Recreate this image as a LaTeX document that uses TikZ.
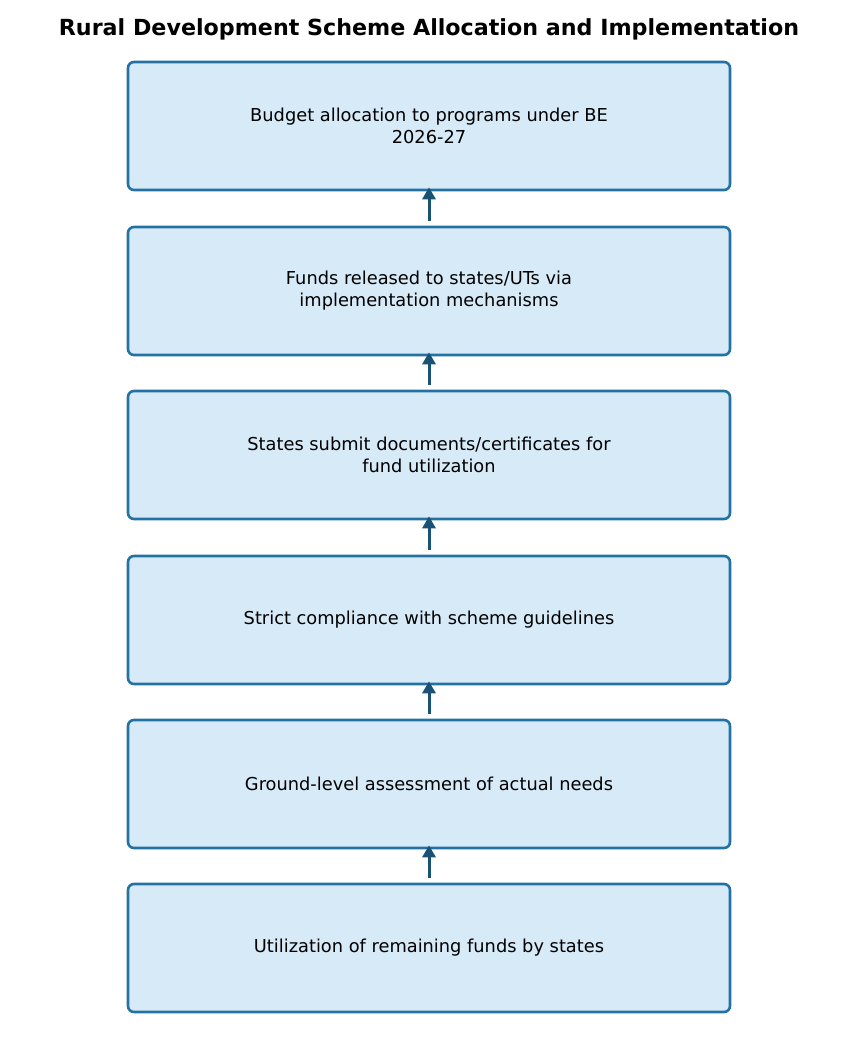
\documentclass[tikz,border=0pt]{standalone}
\usepackage{fontspec}
\setmainfont{DejaVu Sans}
\usepackage{tikz}
\usetikzlibrary{arrows.meta}

\definecolor{boxfill}{HTML}{D6EAF8}
\definecolor{boxline}{HTML}{2471A3}
\definecolor{arrline}{HTML}{1A5276}

\tikzset{
  stepbox/.style={draw=boxline, fill=boxfill, line width=2.6pt, rounded corners=6pt,
    minimum width=602pt, minimum height=128pt, align=center,
    font=\fontsize{17.8}{22}\selectfont},
  flowarrow/.style={draw=arrline, line width=3pt,
    -{Triangle[length=12pt,width=13pt,fill=arrline]}, shorten <=5pt, shorten >=-4pt}
}

\begin{document}
\begin{tikzpicture}[x=1pt,y=1pt]
\useasboundingbox (0,0) rectangle (858,-1053);
\node[font=\fontsize{22.2}{26}\selectfont\bfseries] (title) at (429,-29) {Rural Development Scheme Allocation and Implementation};
% boxes, top to bottom
\node[stepbox] (b1) at (429,-126) {Budget allocation to programs under BE\\2026-27};
\node[stepbox] (b2) at (429,-291) {Funds released to states/UTs via\\implementation mechanisms};
\node[stepbox] (b3) at (429,-455) {States submit documents/certificates for\\fund utilization};
\node[stepbox] (b4) at (429,-620) {Strict compliance with scheme guidelines};
\node[stepbox] (b5) at (429,-784) {Ground-level assessment of actual needs};
\node[stepbox] (b6) at (429,-948) {Utilization of remaining funds by states};
% arrows point upwards
\foreach \lo/\hi in {b2/b1,b3/b2,b4/b3,b5/b4,b6/b5}
  \draw[flowarrow] (\lo.north) -- (\hi.south);
\end{tikzpicture}
\end{document}
